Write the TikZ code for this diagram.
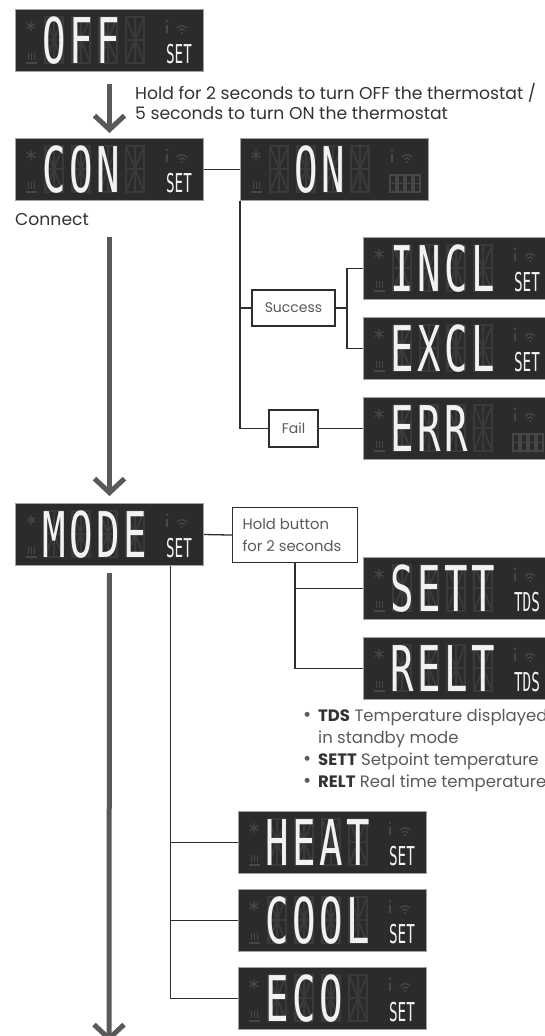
\documentclass[tikz,border=0pt]{standalone}
\usepackage{fontspec}
\setmainfont{Poppins}
\newfontfamily\lcdfont[FakeStretch=0.62]{DejaVu Sans Mono}
\newfontfamily\lcdtagfont[FakeStretch=0.55]{DejaVu Sans Mono}
\usetikzlibrary{arrows.meta,calc}
\definecolor{lcdbg}{HTML}{2B2B2B}
\definecolor{lcdedge}{HTML}{A0A0A0}
\definecolor{ghostc}{HTML}{3A3A3A}
\definecolor{iconc}{HTML}{474747}
\definecolor{lit}{HTML}{F2F2F2}
\definecolor{arrowgray}{HTML}{595959}
\definecolor{linecol}{HTML}{2E2E2E}
\definecolor{txt}{HTML}{333333}
\definecolor{txtlight}{HTML}{5A5A5A}

\makeatletter
\def\lcdchars#1{\lcd@chars#1\relax}
\def\lcd@chars#1{\ifx\relax#1\else\makebox[27pt]{#1}\expandafter\lcd@chars\fi}
\makeatother

\newcommand\lcdpanel[6]{%
  \node[lcd, anchor=north west] (#1) at (#2,#3) {};
  \begin{scope}[shift={(#2,#3)}]
    \foreach \gx in {30,57,84,111}{
      \draw[ghostseg] (\gx,8) rectangle (\gx+18,54);
      \draw[ghostseg] (\gx,31) -- (\gx+18,31) (\gx+9,8) -- (\gx+9,54)
        (\gx,8) -- (\gx+9,31) -- (\gx+18,8) (\gx,54) -- (\gx+9,31) -- (\gx+18,54);
    }
    \draw[icon] (16,12) -- (16,22) (11.7,14.5) -- (20.3,19.5) (11.7,19.5) -- (20.3,14.5);
    \draw[icon] (11,54) -- (22,54) (13.5,44) -- (13.5,51) (16.5,44) -- (16.5,51) (19.5,44) -- (19.5,51);
    \fill[iconc] (152,12) circle (1.4);
    \draw[icon, line width=2.2] (152,16) -- (152,24);
    \draw[icon] (162,19) .. controls (165,16) and (169,16) .. (172,19);
    \draw[icon] (164,21.5) .. controls (166,19.5) and (168,19.5) .. (170,21.5);
    \fill[iconc] (167,24) circle (1.1);
  \end{scope}
  \node[lcdtext, anchor=base west] (#1-txt) at ({#2+25.5+27*#4},{#3+54}) {\lcdchars{#5}};
  \if\relax\detokenize{#6}\relax\else
    \node[lcdtag, anchor=base] (#1-tag) at ({#2+164},{#3+54}) {#6};
  \fi
}
\newcommand\smalldigits[2]{%
  \begin{scope}[shift={(#1,#2)}]
    \foreach \gx in {150,158,166,174}{
      \draw[draw=iconc, line width=1.2] (\gx,37) rectangle (\gx+6,54) (\gx,45.5) -- (\gx+6,45.5);
    }
  \end{scope}
}

\begin{document}
\begin{tikzpicture}[x=1pt, y=-1pt,
  lcd/.style={fill=lcdbg, draw=lcdedge, line width=1, minimum width=188, minimum height=62, inner sep=0},
  ghostseg/.style={draw=ghostc, line width=2},
  icon/.style={draw=iconc, line width=1.3},
  lcdtext/.style={font=\lcdfont\fontsize{63}{63}\selectfont, text=lit, inner sep=0},
  lcdtag/.style={font=\lcdtagfont\fontsize{26}{26}\selectfont, text=lit, inner sep=0},
  conn/.style={draw=linecol, line width=1.3},
  arr/.style={draw=arrowgray, line width=5, -{Straight Barb[length=14pt,width=30pt]}},
  lbox/.style={draw=linecol, line width=1.1, fill=white, text=txtlight, font=\fontsize{14}{17}\selectfont, inner sep=0},
  label/.style={text=txt, font=\fontsize{17.2}{20}\selectfont, inner sep=0, anchor=base west},
  bullet/.style={text=txtlight, font=\fontsize{16.5}{20}\selectfont, inner sep=0, anchor=base west}
]
\useasboundingbox (0,0) rectangle (544,1036);
\fill[white] (0,0) rectangle (544,1036);

% displays
\lcdpanel{OFF}{15}{9}{0}{OFF}{SET}
\lcdpanel{CON}{15}{138}{0}{CON}{SET}
\lcdpanel{ON}{240}{138}{1}{ON}{}
\smalldigits{240}{138}
\lcdpanel{INCL}{363}{237}{0}{INCL}{SET}
\lcdpanel{EXCL}{363}{317}{0}{EXCL}{SET}
\lcdpanel{ERR}{363}{397}{0}{ERR}{}
\smalldigits{363}{397}
\lcdpanel{MODE}{15}{503}{0}{MODE}{SET}
\lcdpanel{SETT}{363}{557}{0}{SETT}{TDS}
\lcdpanel{RELT}{363}{637}{0}{RELT}{TDS}
\lcdpanel{HEAT}{238}{811}{0}{HEAT}{SET}
\lcdpanel{COOL}{238}{889}{0}{COOL}{SET}
\lcdpanel{ECO}{238}{967}{0}{ECO}{SET}

% labels
\node[label] (hold1) at (135,99) {Hold for 2 seconds to turn OFF the thermostat /};
\node[label] (hold2) at (135,119.5) {5 seconds to turn ON the thermostat};
\node[label] (connect) at (15,225) {Connect};

\node[lbox, minimum width=83, minimum height=36] (Success) at (293.5,308) {Success};
\node[lbox, minimum width=49, minimum height=37] (Fail) at (293.5,428.5) {Fail};
\node[lbox, anchor=north west, minimum width=125, minimum height=55, align=left,
      font=\fontsize{14.8}{22}\selectfont, text=txtlight] (Hold) at (232,507)
      {\makebox[105pt][l]{Hold button}\\\makebox[105pt][l]{for 2 seconds}};

\node[bullet] (b1) at (303,721) {\makebox[15pt][l]{\fontsize{20}{20}\selectfont •}\textcolor{txt}{\textbf{TDS}} Temperature displayed};
\node[bullet] (b2) at (318,743) {in standby mode};
\node[bullet] (b3) at (303,765) {\makebox[15pt][l]{\fontsize{20}{20}\selectfont •}\textcolor{txt}{\textbf{SETT}} Setpoint temperature};
\node[bullet] (b4) at (303,787) {\makebox[15pt][l]{\fontsize{20}{20}\selectfont •}\textcolor{txt}{\textbf{RELT}} Real time temperature};

% connectors
\draw[conn] (CON.east) -- (ON.west);
\draw[conn] (ON.south west) |- (Fail.west);
\draw[conn] (ON.south west |- Success.west) -- (Success.west);
\coordinate (sj) at (347,308);
\draw[conn] (Success.east) -- (sj);
\draw[conn] (INCL.west) -| (sj) |- (EXCL.west);
\draw[conn] (Fail.east) -- (ERR.west);
\draw[conn] (MODE.east) -- (Hold.west);
\draw[conn] (Hold.south) |- (SETT.west);
\draw[conn] (Hold.south) |- (RELT.west);
\coordinate (mj) at ([xshift=61]MODE.south);
\draw[conn] (mj) |- (HEAT.west);
\draw[conn] (mj) |- (COOL.west);
\draw[conn] (mj) |- (ECO.west);

% arrows
\draw[arr] ([yshift=-12]OFF.south) -- ([yshift=5]CON.north);
\draw[arr] ([yshift=-36]CON.south) -- ([yshift=7]MODE.north);
\coordinate (a3end) at (109,1042);
\draw[arr] ([yshift=-7]MODE.south) -- (a3end);
\end{tikzpicture}
\end{document}
